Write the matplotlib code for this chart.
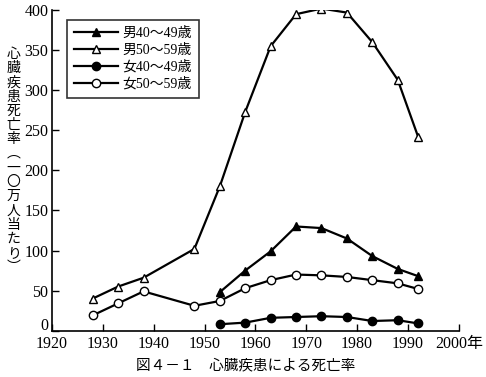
import matplotlib.pyplot as plt
import matplotlib.transforms as mtransforms

plt.rcParams['font.family'] = ['Liberation Serif', 'Noto Sans CJK JP']

years_m50 = [1928, 1933, 1938, 1948, 1953, 1958, 1963, 1968, 1973, 1978, 1983, 1988, 1992]
m50 = [40, 55, 66, 102, 180, 273, 355, 395, 402, 397, 360, 313, 242]
f50 = [19, 34, 49, 31, 37, 53, 63, 70, 69, 67, 63, 59, 52]

years_40 = [1953, 1958, 1963, 1968, 1973, 1978, 1983, 1988, 1992]
m40 = [48, 75, 99, 130, 128, 115, 93, 77, 68]
f40 = [8, 10, 16, 17, 18, 17, 12, 13, 9]

labels = ['男40～49歳', '男50～59歳', '女40～49歳', '女50～59歳']
xticks = list(range(1920, 2001, 10))
xticklabels = [str(x) for x in xticks[:-1]] + ['2000年']

fig = plt.figure(figsize=(4.86, 3.77), dpi=100)
ax = fig.add_axes([0.107, 0.123, 0.837, 0.85])

kw = dict(color='black', lw=1.6, markersize=6, markeredgewidth=1.0)
ax.plot(years_40, m40, marker='^', markerfacecolor='black', label=labels[0], **kw)
ax.plot(years_m50, m50, marker='^', markerfacecolor='white', label=labels[1], **kw)
ax.plot(years_40, f40, marker='o', markerfacecolor='black', label=labels[2], **kw)
ax.plot(years_m50, f50, marker='o', markerfacecolor='white', label=labels[3], **kw)

ax.set_xlim(1920, 2000)
ax.set_ylim(0, 400)
ax.set_xticks(xticks)
ax.set_xticklabels(xticklabels)
ax.set_yticks(range(0, 401, 50))
for s in ['top', 'right']:
    ax.spines[s].set_visible(False)
for s in ['left', 'bottom']:
    ax.spines[s].set_linewidth(1.2)
ax.tick_params(direction='in', length=5, width=1.0, labelsize=11.5, pad=4)
ax.tick_params(axis='y', pad=2.5)

# lift the "0" label a little off the x axis
lab0 = ax.get_yticklabels()[0]
lab0.set_transform(lab0.get_transform() + mtransforms.ScaledTranslation(0, 5 / 72, fig.dpi_scale_trans))

ylab = '心臓疾患死亡率︵一〇万人当たり︶'
fig.text(0.028, 0.873, '\n'.join(ylab), ha='center', va='top', fontsize=10,
         linespacing=1.12)

leg = ax.legend(loc='upper left', bbox_to_anchor=(0.02, 0.99), handlelength=3.2,
                fontsize=10, frameon=True, fancybox=False, edgecolor='black',
                borderpad=0.5, labelspacing=0.25, handletextpad=0.3)
leg.get_frame().set_linewidth(1.2)

fig.text(0.506, 0.03, '図４－１　心臓疾患による死亡率', ha='center', va='center', fontsize=10.5)

fig.savefig('out.png', dpi=100)
